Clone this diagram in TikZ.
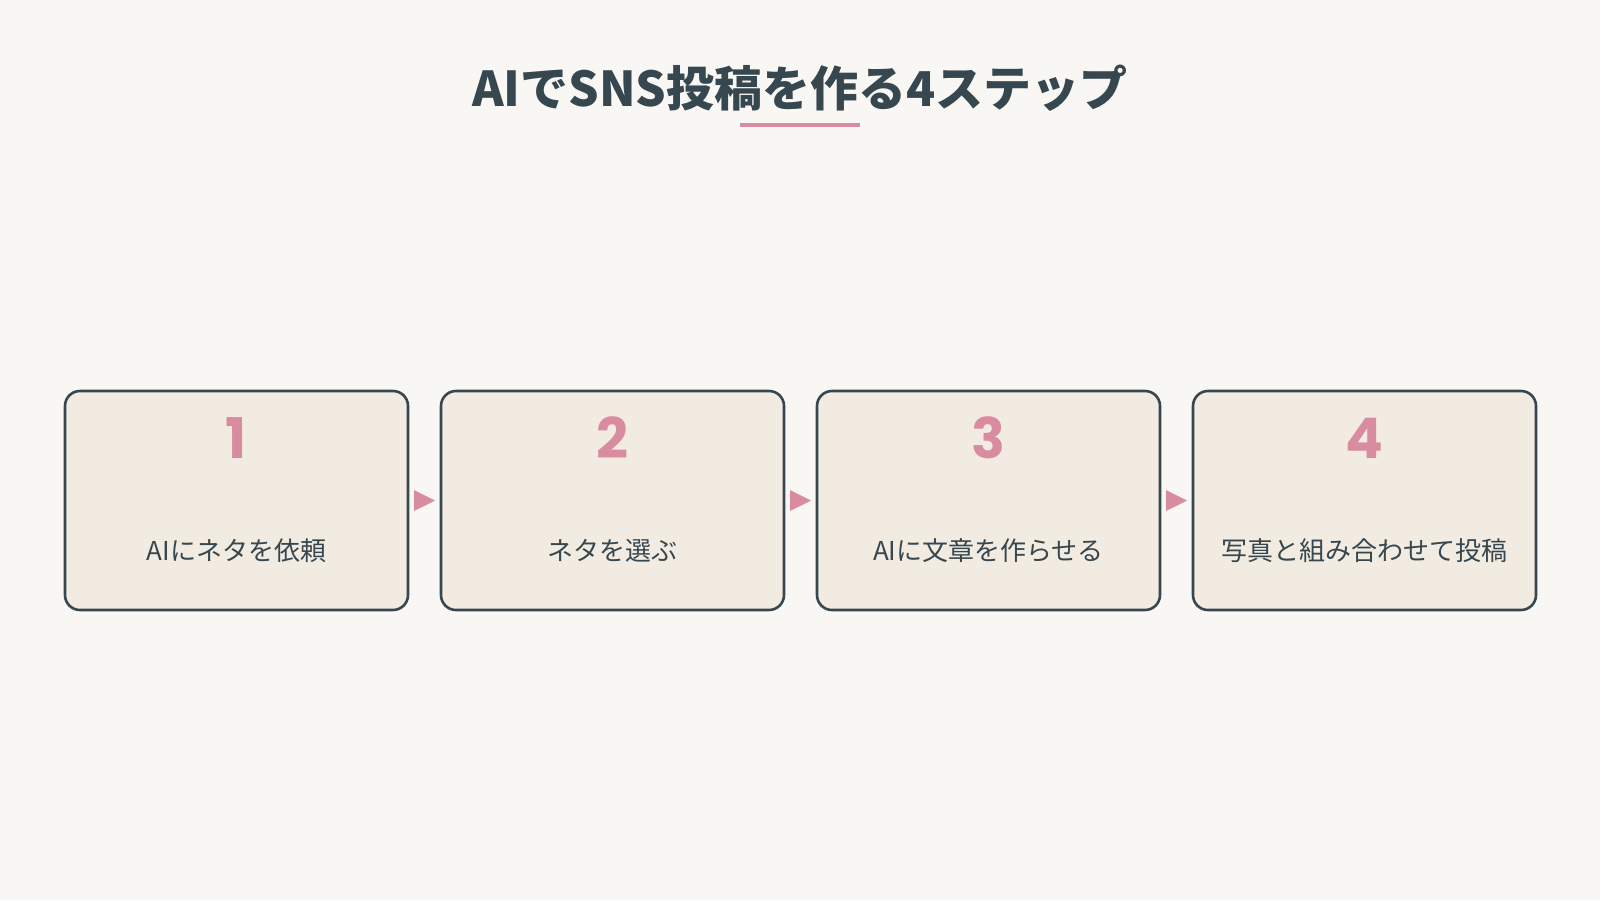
\documentclass[tikz,border=0pt]{standalone}
\usepackage{fontspec}
\usetikzlibrary{calc}
\newfontfamily\jp{Noto Sans CJK JP}
\newfontfamily\numfont{Poppins}
\definecolor{bgc}{HTML}{F9F7F3}
\definecolor{boxfill}{HTML}{F2EBE2}
\definecolor{darkc}{HTML}{37474F}
\definecolor{pinkc}{HTML}{D98BA0}
\tikzset{
  stepbox/.style={draw=darkc, fill=boxfill, line width=2.6pt, rounded corners=15pt,
    minimum width=343pt, minimum height=219pt, inner sep=0pt},
  numtext/.style={anchor=base, text=pinkc, font=\numfont\bfseries\fontsize{56}{60}\selectfont, inner sep=0pt},
  labtext/.style={anchor=base, text=darkc, font=\jp\fontsize{26}{30}\selectfont, inner sep=0pt},
  tri/.style={fill=pinkc}
}
\begin{document}
\begin{tikzpicture}[x=1pt,y=-1pt]
\fill[bgc] (0,0) rectangle (1600,900);
\useasboundingbox (0,0) rectangle (1600,900);
\node[anchor=base, text=darkc, inner sep=0pt, font=\jp\bfseries\fontsize{48}{52}\selectfont] (title) at (800,106) {AIでSNS投稿を作る4ステップ};
\draw[pinkc, line width=4pt] (740,125) -- (860,125);
\foreach \i/\cx/\lab in {1/236.5/AIにネタを依頼, 2/612.5/ネタを選ぶ, 3/988.5/AIに文章を作らせる, 4/1364.5/写真と組み合わせて投稿}{
  \node[stepbox] (b\i) at (\cx,500.5) {};
  \node[numtext] (n\i) at (\cx,458) {\i};
  \node[labtext] (l\i) at (\cx,560) {\lab};
}
\foreach \a/\b in {1/2,2/3,3/4}{
  \path (b\a.east) -- (b\b.west) coordinate[midway] (m\a);
  \fill[tri] ($(m\a)+(-10.5,-10.5)$) -- ++(21,10.5) -- ++(-21,10.5) -- cycle;
}
\end{tikzpicture}
\end{document}
